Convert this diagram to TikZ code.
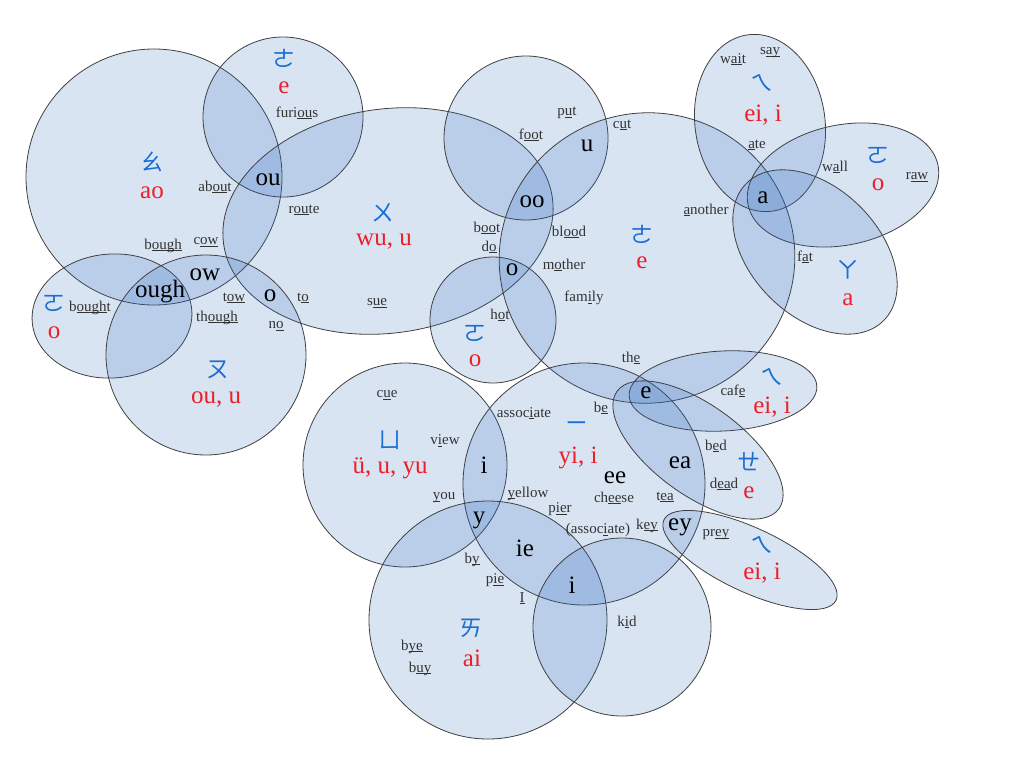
\documentclass[tikz,border=0pt]{standalone}
\usepackage{fontspec}
\setmainfont{Liberation Serif}
\newfontfamily\zhuyin{Noto Sans CJK TC}
\definecolor{setblue}{RGB}{45,105,188}
\definecolor{zyblue}{RGB}{25,110,210}
\definecolor{pyred}{RGB}{238,30,40}
\newcommand{\usnd}[1]{\underline{\smash{#1}}}

\begin{document}
\begin{tikzpicture}[x=1pt, y=-1pt,
  Set/.style={draw=black!75, line width=0.8pt, fill=setblue, fill opacity=0.18},
  Word/.style={inner sep=0pt, text=black!80, font=\fontsize{15}{15}\selectfont},
  Graph/.style={inner sep=0pt, text=black, font=\fontsize{25}{25}\selectfont},
  Zhuyin/.style={inner sep=0pt, text=zyblue, font=\zhuyin\fontsize{23}{23}\selectfont},
  Pinyin/.style={inner sep=0pt, text=pyred, font=\fontsize{25}{25}\selectfont}
  ]
  \useasboundingbox (0,0) rectangle (1024,768);

  % sets
  \draw[Set] (154,177) circle [radius=128];
  \draw[Set] (283,117) circle [radius=80];
  \draw[Set, shift={(388,221)}, rotate=8] (0,0) ellipse [x radius=166, y radius=112];
  \draw[Set, shift={(112,316)}, rotate=4] (0,0) ellipse [x radius=80, y radius=62];
  \draw[Set] (206,355) circle [radius=100];
  \draw[Set] (493,320) circle [radius=63];
  \draw[Set] (526,138) circle [radius=82];
  \draw[Set, shift={(647,258)}, rotate=15] (0,0) ellipse [x radius=148, y radius=145];
  \draw[Set, shift={(760,123)}, rotate=8] (0,0) ellipse [x radius=65, y radius=89];
  \draw[Set, shift={(843,185)}, rotate=12] (0,0) ellipse [x radius=97, y radius=60];
  \draw[Set, shift={(815,252)}, rotate=-45] (0,0) ellipse [x radius=97, y radius=64];
  \draw[Set] (405,465) circle [radius=102];
  \draw[Set] (584,484) circle [radius=121];
  \draw[Set] (488,620) circle [radius=119];
  \draw[Set] (622,627) circle [radius=89];
  \draw[Set, shift={(723,391)}, rotate=3] (0,0) ellipse [x radius=94, y radius=40];
  \draw[Set, shift={(698,450)}, rotate=-36] (0,0) ellipse [x radius=100, y radius=45];
  \draw[Set, shift={(750,560)}, rotate=-25] (0,0) ellipse [x radius=95, y radius=32];

  % sounds
  \node[Zhuyin] (AoZy)     at (152,162) {ㄠ};
  \node[Pinyin] (AoPy)     at (152,193) {ao};
  \node[Zhuyin] (ETopZy)   at (284,58)  {ㄜ};
  \node[Pinyin] (ETopPy)   at (284,88)  {e};
  \node[Zhuyin] (WuZy)     at (383,213) {ㄨ};
  \node[Pinyin] (WuPy)     at (384,242) {wu, u};
  \node[Zhuyin] (OLeftZy)  at (54,303)  {ㄛ};
  \node[Pinyin] (OLeftPy)  at (54,333)  {o};
  \node[Zhuyin] (OuZy)     at (218,370) {ㄡ};
  \node[Pinyin] (OuPy)     at (216,400) {ou, u};
  \node[Zhuyin] (OMidZy)   at (475,333) {ㄛ};
  \node[Pinyin] (OMidPy)   at (475,361) {o};
  \node[Zhuyin] (EBigZy)   at (642,234) {ㄜ};
  \node[Pinyin] (EBigPy)   at (642,263) {e};
  \node[Zhuyin] (EiTopZy)  at (762,83)  {ㄟ};
  \node[Pinyin] (EiTopPy)  at (763,115) {ei, i};
  \node[Zhuyin] (ORightZy) at (878,155) {ㄛ};
  \node[Pinyin] (ORightPy) at (878,185) {o};
  \node[Zhuyin] (AZy)      at (848,270) {ㄚ};
  \node[Pinyin] (APy)      at (848,300) {a};
  \node[Zhuyin] (YuZy)     at (390,440) {ㄩ};
  \node[Pinyin] (YuPy)     at (390,468) {ü, u, yu};
  \node[Zhuyin] (YiZy)     at (577,427) {ㄧ};
  \node[Pinyin] (YiPy)     at (578,458) {yi, i};
  \node[Zhuyin] (AiZy)     at (471,628) {ㄞ};
  \node[Pinyin] (AiPy)     at (472,658) {ai};
  \node[Zhuyin] (EiMidZy)  at (772,377) {ㄟ};
  \node[Pinyin] (EiMidPy)  at (772,407) {ei, i};
  \node[Zhuyin] (EhZy)     at (749,462) {ㄝ};
  \node[Pinyin] (EhPy)     at (749,493) {e};
  \node[Zhuyin] (EiLowZy)  at (762,545) {ㄟ};
  \node[Pinyin] (EiLowPy)  at (762,573) {ei, i};

  % spellings
  \node[Graph] (GOu)    at (268,180) {ou};
  \node[Graph] (GOugh)  at (160,292) {ough};
  \node[Graph] (GOw)    at (205,275) {ow};
  \node[Graph] (GOLow)  at (270,296) {o};
  \node[Graph] (GU)     at (587,146) {u};
  \node[Graph] (GOo)    at (532,202) {oo};
  \node[Graph] (GOMid)  at (512,270) {o};
  \node[Graph] (GA)     at (763,198) {a};
  \node[Graph] (GITop)  at (484,465) {i};
  \node[Graph] (GY)     at (479,520) {y};
  \node[Graph] (GEe)    at (615,478) {ee};
  \node[Graph] (GIe)    at (525,548) {ie};
  \node[Graph] (GILow)  at (572,585) {i};
  \node[Graph] (GE)     at (646,393) {e};
  \node[Graph] (GEa)    at (680,463) {ea};
  \node[Graph] (GEy)    at (680,527) {ey};

  % words
  \node[Word] (Furious)  at (297,113) {furi\usnd{ou}s};
  \node[Word] (About)    at (215,187) {ab\usnd{ou}t};
  \node[Word] (Route)    at (304,210) {r\usnd{ou}te};
  \node[Word] (Bough)    at (163,245) {b\usnd{ough}};
  \node[Word] (Cow)      at (206,242) {c\usnd{ow}};
  \node[Word] (Bought)   at (90,307)  {b\usnd{ough}t};
  \node[Word] (Tow)      at (234,298) {t\usnd{ow}};
  \node[Word] (Though)   at (217,317) {th\usnd{ough}};
  \node[Word] (To)       at (303,298) {t\usnd{o}};
  \node[Word] (No)       at (276,326) {n\usnd{o}};
  \node[Word] (Sue)      at (377,303) {s\usnd{ue}};
  \node[Word] (Put)      at (567,113) {p\usnd{u}t};
  \node[Word] (Cut)      at (622,125) {c\usnd{u}t};
  \node[Word] (Foot)     at (531,135) {f\usnd{oo}t};
  \node[Word] (Boot)     at (487,228) {b\usnd{oo}t};
  \node[Word] (Do)       at (489,247) {d\usnd{o}};
  \node[Word] (Blood)    at (569,232) {bl\usnd{oo}d};
  \node[Word] (Mother)   at (564,265) {m\usnd{o}ther};
  \node[Word] (Family)   at (584,298) {fam\usnd{i}ly};
  \node[Word] (Hot)      at (500,315) {h\usnd{o}t};
  \node[Word] (Another)  at (706,210) {\usnd{a}nother};
  \node[Word] (Wait)     at (733,60)  {w\usnd{ai}t};
  \node[Word] (Say)      at (770,52)  {s\usnd{ay}};
  \node[Word] (Ate)      at (757,145) {\usnd{a}te};
  \node[Word] (Wall)     at (835,167) {w\usnd{a}ll};
  \node[Word] (Raw)      at (917,177) {r\usnd{aw}};
  \node[Word] (Fat)      at (805,257) {f\usnd{a}t};
  \node[Word] (Cue)      at (387,395) {c\usnd{u}e};
  \node[Word] (View)     at (445,442) {v\usnd{i}ew};
  \node[Word] (You)      at (444,497) {\usnd{y}ou};
  \node[Word] (Associate) at (524,414) {assoc\usnd{i}ate};
  \node[Word] (Yellow)   at (528,493) {\usnd{y}ellow};
  \node[Word] (Be)       at (601,408) {b\usnd{e}};
  \node[Word] (The)      at (631,358) {th\usnd{e}};
  \node[Word] (Cheese)   at (614,498) {ch\usnd{ee}se};
  \node[Word] (Pier)     at (560,511) {p\usnd{ie}r};
  \node[Word] (Tea)      at (665,497) {t\usnd{ea}};
  \node[Word] (AssociateB) at (598,530) {(assoc\usnd{i}ate)};
  \node[Word] (Key)      at (647,525) {k\usnd{ey}};
  \node[Word] (By)       at (472,559) {b\usnd{y}};
  \node[Word] (Pie)      at (495,582) {p\usnd{ie}};
  \node[Word] (BigI)     at (522,603) {\usnd{I}};
  \node[Word] (Bye)      at (412,646) {b\usnd{ye}};
  \node[Word] (Buy)      at (420,668) {b\usnd{uy}};
  \node[Word] (Kid)      at (627,622) {k\usnd{i}d};
  \node[Word] (Cafe)     at (733,391) {caf\usnd{e}};
  \node[Word] (Bed)      at (716,446) {b\usnd{e}d};
  \node[Word] (Dead)     at (724,484) {d\usnd{ea}d};
  \node[Word] (Prey)     at (716,535) {pr\usnd{ey}};

\end{tikzpicture}
\end{document}
